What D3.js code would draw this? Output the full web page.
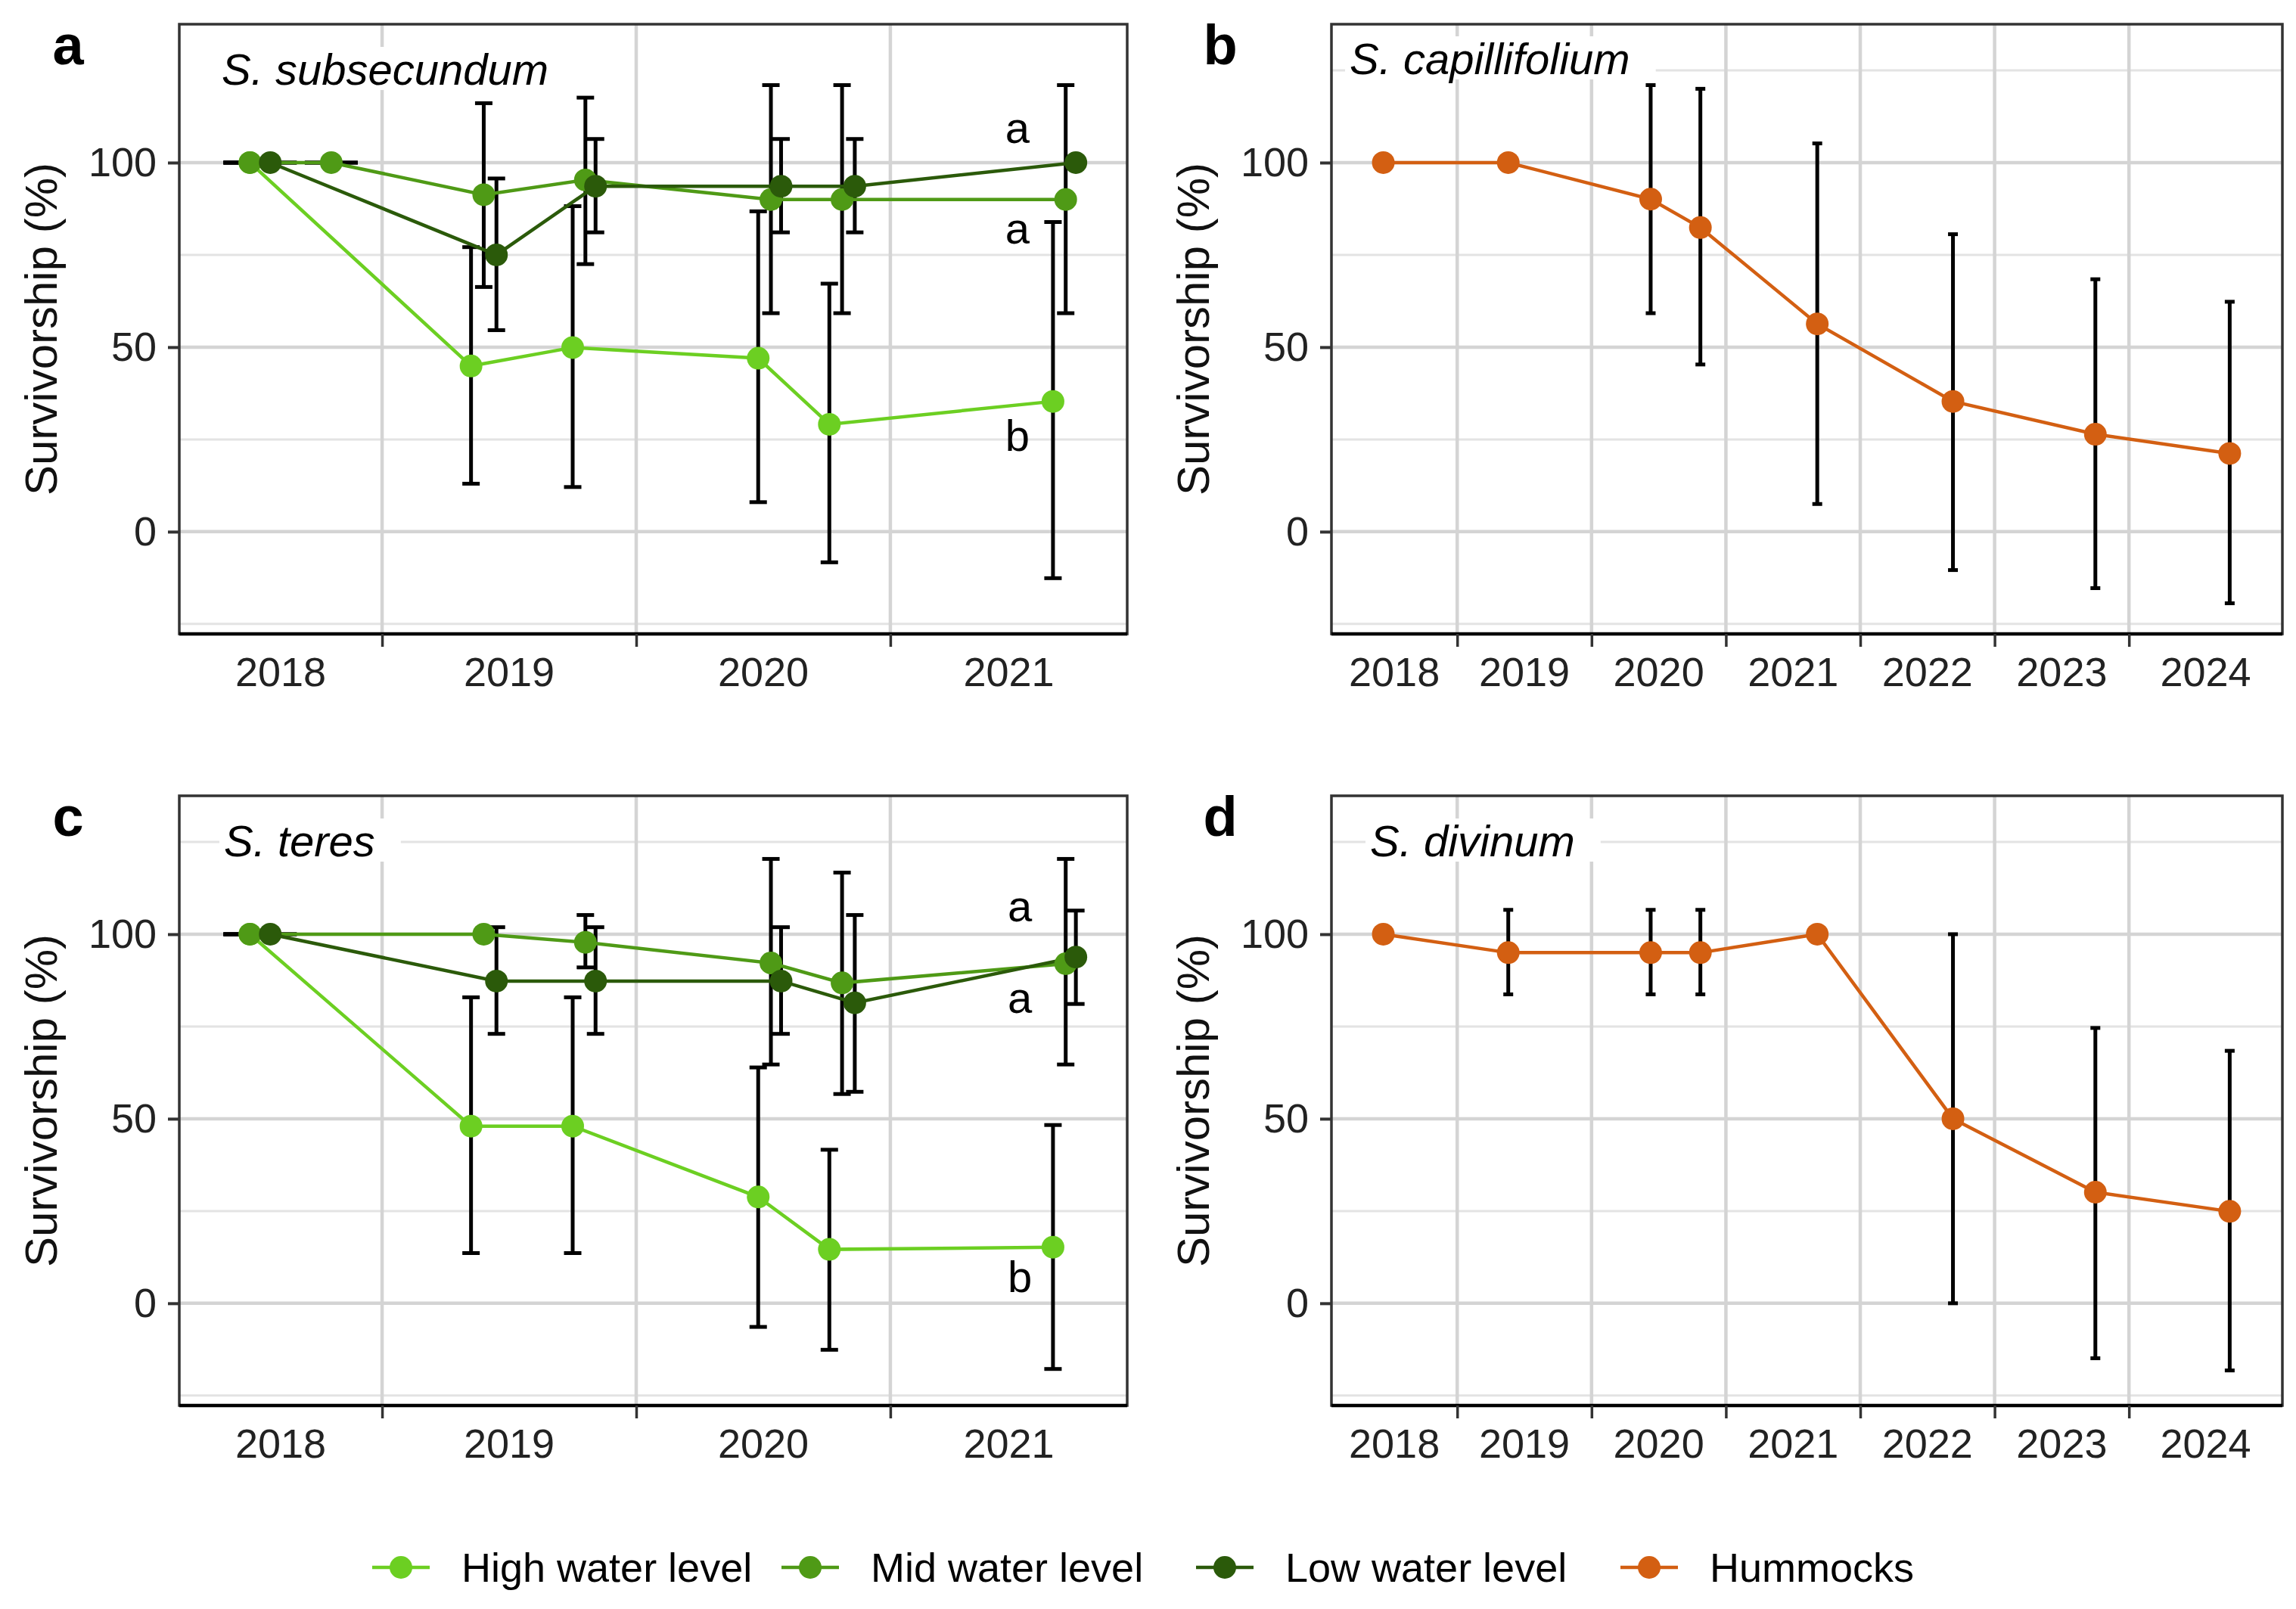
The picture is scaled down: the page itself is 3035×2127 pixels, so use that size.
<!DOCTYPE html>
<html>
<head>
<meta charset="utf-8">
<script src="https://cdn.jsdelivr.net/npm/d3@7"></script>
<style>
body { margin: 0; background: #fff; }
text { font-family: "Liberation Sans", Arial, sans-serif; }
</style>
</head>
<body>
<svg id="chart" width="3035" height="2127"></svg>
<script>
// colours
var highColor = "#6CCF22", midColor = "#4F9A16", lowColor = "#2B5A0A", humColor = "#D35F12"

// y axis
var yTicks = [0, 50, 100]
var yDomain = [-27.7, 137.5]

// x axis labels and year breaks
var shortYears = ["2018", "2019", "2020", "2021"]
var shortBreaks = [2019, 2020, 2021]
var longYears = ["2018", "2019", "2020", "2021", "2022", "2023", "2024"]
var longBreaks = [2019, 2020, 2021, 2022, 2023, 2024]

// panel a: S. subsecundum
var aHighX  = [2018.48, 2019.35, 2019.75, 2020.48, 2020.76, 2021.64]
var aHighY  = [100, 44.9, 49.9, 47.0, 29.1, 35.3]
var aHighLo = [100, 13.0, 12.1, 8.0, -8.3, -12.6]
var aHighHi = [100, 77.1, 88.2, 86.8, 67.2, 83.9]

var aMidX  = [2018.48, 2018.80, 2019.40, 2019.80, 2020.53, 2020.81, 2021.69]
var aMidY  = [100, 100, 91.3, 95.3, 90.0, 90.0, 90.0]
var aMidLo = [100, 100, 66.3, 72.5, 59.2, 59.2, 59.2]
var aMidHi = [100, 100, 116.1, 117.6, 121.0, 121.0, 121.0]

var aLowX  = [2018.56, 2019.45, 2019.84, 2020.57, 2020.86, 2021.73]
var aLowY  = [100, 75.0, 93.6, 93.6, 93.6, 100]
var aLowLo = [100, 54.6, 81.1, 81.1, 81.1, null]
var aLowHi = [100, 95.7, 106.4, 106.4, 106.4, null]

var aLetters = ["a", "a", "b"]
var aLetterY = [105.3, 78.1, 22.0]

// panel c: S. teres
var cHighX  = [2018.48, 2019.35, 2019.75, 2020.48, 2020.76, 2021.64]
var cHighY  = [100, 48.0, 48.0, 28.8, 14.6, 15.2]
var cHighLo = [100, 13.6, 13.6, -6.4, -12.6, -17.8]
var cHighHi = [100, 82.9, 82.9, 63.9, 41.6, 48.3]

var cMidX  = [2018.48, 2019.40, 2019.80, 2020.53, 2020.81, 2021.69]
var cMidY  = [100, 100, 97.8, 92.2, 86.8, 92.0]
var cMidLo = [100, null, 91.0, 64.7, 56.7, 64.7]
var cMidHi = [100, null, 105.2, 120.4, 116.7, 120.4]

var cLowX  = [2018.56, 2019.45, 2019.84, 2020.57, 2020.86, 2021.73]
var cLowY  = [100, 87.3, 87.3, 87.3, 81.4, 93.8]
var cLowLo = [100, 73.0, 73.0, 73.0, 57.3, 81.1]
var cLowHi = [100, 101.9, 101.9, 101.9, 105.2, 106.4]

var cLetters = ["a", "a", "b"]
var cLetterY = [103.5, 78.6, 3.1]

// panels b and d: hummocks
var humX = [2018.45, 2019.38, 2020.44, 2020.81, 2021.68, 2022.69, 2023.75, 2024.75]

var bY  = [100, 100, 90.1, 82.4, 56.3, 35.3, 26.4, 21.2]
var bLo = [100, 100, 59.2, 45.3, 7.5, -10.4, -15.3, -19.4]
var bHi = [100, 100, 121.0, 120.0, 105.2, 80.6, 68.4, 62.3]

var dY  = [100, 95.0, 95.0, 95.0, 100, 50.0, 30.1, 24.9]
var dLo = [100, 83.7, 83.7, 83.7, null, 0, -14.9, -18.2]
var dHi = [100, 106.6, 106.6, 106.6, null, 100, 74.6, 68.4]

// legend
var legendLabels = ["High water level", "Mid water level", "Low water level", "Hummocks"]
var legendColors = [highColor, midColor, lowColor, humColor]
var legendKeyX = [530, 1071, 1619, 2180]

function series(xs, ys, lo, hi, color) {
    return {color: color, points: xs.map(function(d, i){ return {x: d, y: ys[i], lo: lo[i], hi: hi[i]} })}
}

var svg = d3.select("#chart")
svg.append("rect").attr("width", 3035).attr("height", 2127).attr("fill", "#fff")

var panelH = 806

var panels = [
    {letter: "a", title: "S. subsecundum", left: 237, top: 32, width: 1253, domain: [2018.202, 2021.932],
     years: shortYears, breaks: shortBreaks, cap: 23, zeroCap: 70, minor: [-25, 25, 75], titleDx: 56, titleDy: 80,
     series: [series(aHighX, aHighY, aHighLo, aHighHi, highColor),
              series(aMidX, aMidY, aMidLo, aMidHi, midColor),
              series(aLowX, aLowY, aLowLo, aLowHi, lowColor)],
     letters: aLetters, letterY: aLetterY, letterX: 2021.50},
    {letter: "b", title: "S. capillifolium", left: 1760, top: 32, width: 1257, domain: [2018.064, 2025.142],
     years: longYears, breaks: longBreaks, cap: 13, zeroCap: 13, minor: [-25, 25, 75, 125], titleDx: 24, titleDy: 66,
     series: [series(humX, bY, bLo, bHi, humColor)]},
    {letter: "c", title: "S. teres", left: 237, top: 1052, width: 1253, domain: [2018.202, 2021.932],
     years: shortYears, breaks: shortBreaks, cap: 23, zeroCap: 70, minor: [-25, 25, 75, 125], titleDx: 59, titleDy: 80,
     series: [series(cHighX, cHighY, cHighLo, cHighHi, highColor),
              series(cMidX, cMidY, cMidLo, cMidHi, midColor),
              series(cLowX, cLowY, cLowLo, cLowHi, lowColor)],
     letters: cLetters, letterY: cLetterY, letterX: 2021.51},
    {letter: "d", title: "S. divinum", left: 1760, top: 1052, width: 1257, domain: [2018.064, 2025.142],
     years: longYears, breaks: longBreaks, cap: 13, zeroCap: 13, minor: [-25, 25, 75, 125], titleDx: 51, titleDy: 80,
     series: [series(humX, dY, dLo, dHi, humColor)]}
]

panels.forEach(drawPanel)

function drawPanel(p) {
    var g = svg.append("g").attr("transform", "translate(" + p.left + "," + p.top + ")")
    var x = d3.scaleLinear().domain(p.domain).range([0, p.width])
    var y = d3.scaleLinear().domain(yDomain).range([panelH, 0])

    // grid
    g.append("g").selectAll("line").data(p.minor).join("line")
        .attr("x1", 0).attr("x2", p.width)
        .attr("y1", function(d){ return y(d) }).attr("y2", function(d){ return y(d) })
        .attr("stroke", "#e3e3e3").attr("stroke-width", 3)
    g.append("g").selectAll("line").data(yTicks).join("line")
        .attr("x1", 0).attr("x2", p.width)
        .attr("y1", function(d){ return y(d) }).attr("y2", function(d){ return y(d) })
        .attr("stroke", "#d4d4d4").attr("stroke-width", 4.5)
    g.append("g").selectAll("line").data(p.breaks).join("line")
        .attr("x1", function(d){ return x(d) }).attr("x2", function(d){ return x(d) })
        .attr("y1", 0).attr("y2", panelH)
        .attr("stroke", "#d4d4d4").attr("stroke-width", 4.5)

    // species label with white box
    var t = g.append("text")
        .attr("x", p.titleDx).attr("y", p.titleDy)
        .attr("font-size", 58).attr("font-style", "italic").attr("fill", "#000")
        .text(p.title)
    var len = t.node().getComputedTextLength()
    g.insert("rect", function(){ return t.node() })
        .attr("x", p.titleDx - 6).attr("y", p.titleDy - 50)
        .attr("width", len + 40).attr("height", 57)
        .attr("fill", "#fff")

    // error bars
    p.series.forEach(function(s){
        var bars = s.points.filter(function(d){ return d.lo != null })
        var eb = g.append("g").attr("stroke", "#000").attr("stroke-width", 5)
        eb.selectAll(".v").data(bars).join("line")
            .attr("x1", function(d){ return x(d.x) }).attr("x2", function(d){ return x(d.x) })
            .attr("y1", function(d){ return y(d.lo) }).attr("y2", function(d){ return y(d.hi) })
        ;["lo", "hi"].forEach(function(k){
            eb.selectAll(".c" + k).data(bars).join("line")
                .attr("x1", function(d){ return x(d.x) - (d.lo === d.hi ? p.zeroCap : p.cap) / 2 })
                .attr("x2", function(d){ return x(d.x) + (d.lo === d.hi ? p.zeroCap : p.cap) / 2 })
                .attr("y1", function(d){ return y(d[k]) }).attr("y2", function(d){ return y(d[k]) })
        })
    })

    // lines and points
    var line = d3.line().x(function(d){ return x(d.x) }).y(function(d){ return y(d.y) })
    p.series.forEach(function(s){
        g.append("path").datum(s.points)
            .attr("d", line).attr("fill", "none")
            .attr("stroke", s.color).attr("stroke-width", 4.5)
    })
    p.series.forEach(function(s){
        g.append("g").selectAll("circle").data(s.points).join("circle")
            .attr("cx", function(d){ return x(d.x) }).attr("cy", function(d){ return y(d.y) })
            .attr("r", 15).attr("fill", s.color)
    })

    // significance letters
    if (p.letters) {
        g.append("g").selectAll("text").data(p.letters).join("text")
            .attr("x", x(p.letterX))
            .attr("y", function(d, i){ return y(p.letterY[i]) })
            .attr("text-anchor", "middle").attr("font-size", 58).attr("fill", "#000")
            .text(function(d){ return d })
    }

    // border
    g.append("rect").attr("width", p.width).attr("height", panelH)
        .attr("fill", "none").attr("stroke", "#333").attr("stroke-width", 3.5)
    g.append("line").attr("x1", 0).attr("x2", p.width).attr("y1", panelH).attr("y2", panelH)
        .attr("stroke", "#000").attr("stroke-width", 4.5)

    // axes
    g.append("g").attr("transform", "translate(0," + panelH + ")")
        .call(d3.axisBottom(x).tickValues(p.breaks).tickFormat("").tickSize(17))
        .call(function(a){ a.select(".domain").remove() })
        .selectAll("line").attr("stroke", "#333").attr("stroke-width", 3.5)

    var ya = g.append("g")
        .call(d3.axisLeft(y).tickValues(yTicks).tickSize(15).tickPadding(15))
        .attr("font-size", 54).attr("font-family", "'Liberation Sans', Arial, sans-serif")
    ya.select(".domain").remove()
    ya.selectAll("line").attr("stroke", "#333").attr("stroke-width", 4)
    ya.selectAll("text").attr("fill", "#222")

    // year labels centred between breaks
    var edges = [p.domain[0]].concat(p.breaks).concat([p.domain[1]])
    g.append("g").selectAll("text").data(p.years).join("text")
        .attr("x", function(d, i){ return (x(edges[i]) + x(edges[i + 1])) / 2 })
        .attr("y", panelH + 69)
        .attr("text-anchor", "middle").attr("font-size", 54).attr("fill", "#222")
        .text(function(d){ return d })

    // y title
    g.append("text")
        .attr("transform", "translate(-162," + (panelH / 2) + ") rotate(-90)")
        .attr("text-anchor", "middle").attr("font-size", 60).attr("fill", "#111")
        .text("Survivorship (%)")

    // panel letter
    g.append("text").attr("x", -147).attr("y", 53)
        .attr("text-anchor", "middle").attr("font-size", 74).attr("font-weight", "bold")
        .text(p.letter)
}

// legend
var lg = svg.append("g").attr("transform", "translate(0,2072)")
var items = lg.selectAll("g").data(legendLabels).join("g")
    .attr("transform", function(d, i){ return "translate(" + legendKeyX[i] + ",0)" })
items.append("line").attr("x1", -38).attr("x2", 38)
    .attr("stroke", function(d, i){ return legendColors[i] }).attr("stroke-width", 4.5)
items.append("circle").attr("r", 15).attr("fill", function(d, i){ return legendColors[i] })
items.append("text").attr("x", 80).attr("y", 19)
    .attr("font-size", 54).attr("fill", "#000")
    .text(function(d){ return d })
</script>
</body>
</html>
